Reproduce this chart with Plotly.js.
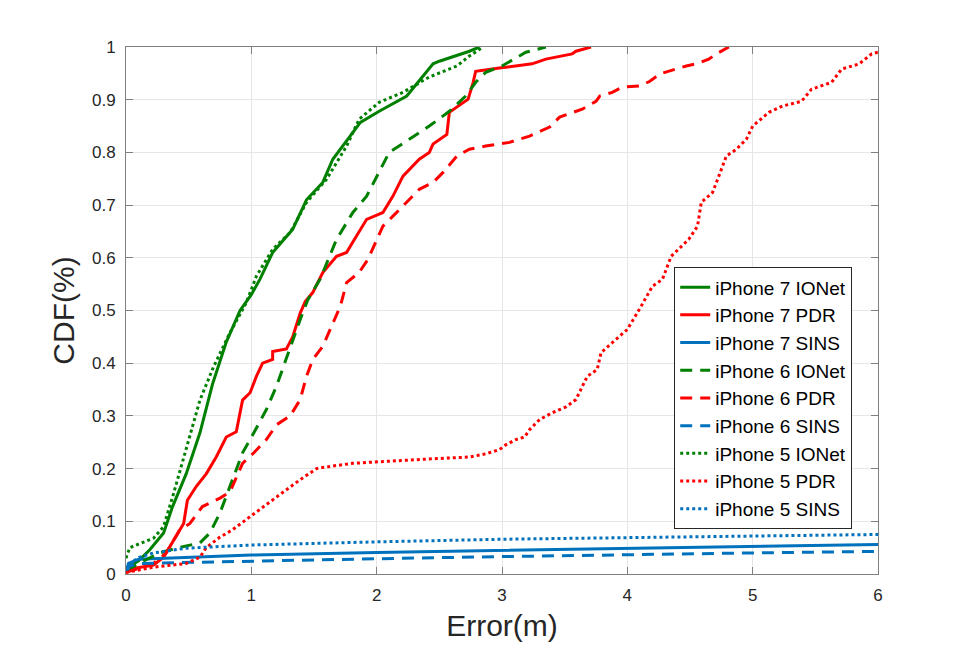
<!DOCTYPE html>
<html>
<head>
<meta charset="utf-8">
<script src="https://cdn.plot.ly/plotly-3.0.1.min.js"></script>
<style>html,body{margin:0;padding:0;background:#fff;}#chart{width:969px;height:646px;}</style>
</head>
<body>
<div id="chart"></div>
<script>
// ---- data ----
const names = ["iPhone 7 IONet","iPhone 7 PDR","iPhone 7 SINS","iPhone 6 IONet","iPhone 6 PDR","iPhone 6 SINS","iPhone 5 IONet","iPhone 5 PDR","iPhone 5 SINS"];

const ip7_ionet_x = [0, 0.1, 0.19, 0.3, 0.37, 0.48, 0.59, 0.69, 0.8, 0.91, 1.0, 1.07, 1.17, 1.33, 1.44, 1.57, 1.65, 1.87, 2.02, 2.24, 2.45, 2.5, 2.74, 2.82];
const ip7_ionet_y = [0.01, 0.025, 0.046, 0.078, 0.127, 0.19, 0.268, 0.36, 0.44, 0.5, 0.53, 0.56, 0.61, 0.654, 0.71, 0.743, 0.787, 0.857, 0.878, 0.907, 0.968, 0.973, 0.992, 1.0];

const ip7_pdr_x = [0, 0.22, 0.3, 0.38, 0.46, 0.49, 0.56, 0.64, 0.72, 0.8, 0.88, 0.93, 0.99, 1.04, 1.09, 1.17, 1.17, 1.28, 1.33, 1.39, 1.43, 1.49, 1.57, 1.68, 1.76, 1.81, 1.87, 1.92, 2.02, 2.05, 2.13, 2.21, 2.34, 2.42, 2.45, 2.56, 2.58, 2.64, 2.73, 2.77, 2.79, 2.98, 3.24, 3.35, 3.56, 3.59, 3.71];
const ip7_pdr_y = [0.008, 0.017, 0.032, 0.065, 0.096, 0.14, 0.166, 0.19, 0.222, 0.26, 0.27, 0.33, 0.344, 0.375, 0.4, 0.407, 0.422, 0.427, 0.45, 0.495, 0.517, 0.534, 0.572, 0.603, 0.61, 0.63, 0.654, 0.673, 0.683, 0.686, 0.717, 0.755, 0.787, 0.8, 0.816, 0.834, 0.876, 0.886, 0.901, 0.933, 0.954, 0.96, 0.968, 0.977, 0.987, 0.992, 1.0];

const ip7_sins_x = [0, 0.02, 0.1, 0.5, 1, 2, 3, 4, 5, 6];
const ip7_sins_y = [0.005, 0.02, 0.028, 0.032, 0.036, 0.041, 0.045, 0.049, 0.053, 0.056];

const ip6_ionet_x = [0, 0.1, 0.27, 0.42, 0.59, 0.67, 0.75, 0.83, 0.93, 1.02, 1.12, 1.2, 1.31, 1.39, 1.45, 1.55, 1.68, 1.81, 1.92, 2.02, 2.1, 2.26, 2.42, 2.58, 2.71, 2.79, 2.87, 3.0, 3.19, 3.35];
const ip6_ionet_y = [0.005, 0.02, 0.04, 0.05, 0.059, 0.078, 0.116, 0.166, 0.23, 0.268, 0.312, 0.356, 0.432, 0.483, 0.52, 0.56, 0.635, 0.686, 0.717, 0.762, 0.8, 0.825, 0.85, 0.878, 0.907, 0.933, 0.952, 0.964, 0.99, 1.0];

const ip6_pdr_x = [0, 0.22, 0.32, 0.43, 0.51, 0.61, 0.75, 0.83, 0.93, 1.02, 1.12, 1.2, 1.31, 1.39, 1.44, 1.49, 1.57, 1.63, 1.71, 1.76, 1.86, 1.93, 2.0, 2.05, 2.13, 2.24, 2.34, 2.45, 2.53, 2.64, 2.74, 2.87, 3.06, 3.22, 3.38, 3.46, 3.64, 3.75, 3.78, 3.88, 3.96, 4.1, 4.18, 4.26, 4.47, 4.55, 4.65, 4.71, 4.81];
const ip6_pdr_y = [0.003, 0.02, 0.04, 0.084, 0.096, 0.128, 0.144, 0.156, 0.21, 0.23, 0.255, 0.283, 0.3, 0.331, 0.375, 0.407, 0.432, 0.464, 0.508, 0.553, 0.572, 0.597, 0.635, 0.66, 0.679, 0.705, 0.73, 0.743, 0.762, 0.793, 0.806, 0.812, 0.819, 0.831, 0.848, 0.867, 0.882, 0.897, 0.907, 0.914, 0.924, 0.926, 0.935, 0.949, 0.964, 0.968, 0.977, 0.987, 1.0];

const ip6_sins_x = [0, 0.03, 0.1, 0.5, 1, 2, 3, 4, 5, 6];
const ip6_sins_y = [0.003, 0.015, 0.02, 0.022, 0.025, 0.029, 0.033, 0.037, 0.04, 0.043];

const ip5_ionet_x = [0, 0.03, 0.22, 0.3, 0.38, 0.48, 0.59, 0.7, 0.83, 0.96, 1.04, 1.17, 1.31, 1.44, 1.6, 1.76, 1.86, 2.02, 2.21, 2.42, 2.64, 2.74, 2.85];
const ip5_ionet_y = [0.03, 0.05, 0.068, 0.09, 0.153, 0.235, 0.33, 0.394, 0.458, 0.515, 0.565, 0.616, 0.648, 0.705, 0.749, 0.812, 0.863, 0.895, 0.914, 0.943, 0.964, 0.983, 1.0];

const ip5_pdr_x = [0, 0.22, 0.48, 0.59, 0.64, 0.75, 0.85, 0.96, 1.07, 1.17, 1.28, 1.39, 1.52, 1.65, 1.81, 2.02, 2.21, 2.48, 2.74, 2.87, 2.98, 3.03, 3.11, 3.18, 3.22, 3.3, 3.4, 3.51, 3.59, 3.64, 3.68, 3.76, 3.79, 3.88, 4.0, 4.11, 4.2, 4.28, 4.35, 4.49, 4.56, 4.59, 4.68, 4.73, 4.79, 4.87, 4.95, 5.0, 5.13, 5.24, 5.39, 5.47, 5.63, 5.71, 5.85, 5.95, 6.0];
const ip5_pdr_y = [0.003, 0.013, 0.02, 0.032, 0.05, 0.07, 0.084, 0.103, 0.122, 0.141, 0.16, 0.179, 0.2, 0.205, 0.21, 0.213, 0.215, 0.219, 0.222, 0.228, 0.236, 0.245, 0.255, 0.26, 0.274, 0.293, 0.306, 0.317, 0.331, 0.356, 0.375, 0.388, 0.42, 0.439, 0.464, 0.508, 0.546, 0.559, 0.603, 0.635, 0.66, 0.705, 0.724, 0.755, 0.793, 0.806, 0.825, 0.85, 0.876, 0.888, 0.897, 0.92, 0.933, 0.958, 0.968, 0.987, 0.99];

const ip5_sins_x = [0, 0.03, 0.11, 0.22, 0.48, 1, 2, 3, 4, 5, 6];
const ip5_sins_y = [0.008, 0.02, 0.032, 0.04, 0.049, 0.055, 0.061, 0.066, 0.069, 0.072, 0.075];

const xTicks = [0, 1, 2, 3, 4, 5, 6];
const yTicks = [0, 0.1, 0.2, 0.3, 0.4, 0.5, 0.6, 0.7, 0.8, 0.9, 1];

// ---- styling ----
const GREEN = "#008000", RED = "#FF0000", BLUE = "#0072BD";
const DASH = "12px,8px", DOT = "3px,3px";
const series = [
  [ip7_ionet_x, ip7_ionet_y, GREEN, "solid"],
  [ip7_pdr_x, ip7_pdr_y, RED, "solid"],
  [ip7_sins_x, ip7_sins_y, BLUE, "solid"],
  [ip6_ionet_x, ip6_ionet_y, GREEN, DASH],
  [ip6_pdr_x, ip6_pdr_y, RED, DASH],
  [ip6_sins_x, ip6_sins_y, BLUE, DASH],
  [ip5_ionet_x, ip5_ionet_y, GREEN, DOT],
  [ip5_pdr_x, ip5_pdr_y, RED, DOT],
  [ip5_sins_x, ip5_sins_y, BLUE, DOT]
];
const traces = series.map((s, i) => ({
  type: "scatter", mode: "lines", name: names[i],
  x: s[0], y: s[1],
  line: {color: s[2], width: 3, dash: s[3]}
}));

const FONT = "Liberation Sans, Arial, Helvetica, sans-serif";
const axisCommon = {
  showline: true, linecolor: "#808080", linewidth: 1, mirror: "ticks",
  ticks: "inside", ticklen: 7, tickcolor: "#808080", tickwidth: 1,
  showgrid: true, gridcolor: "#e6e6e6", gridwidth: 1, zeroline: false,
  tickfont: {family: FONT, size: 17, color: "#262626"}
};
const layout = {
  width: 969, height: 646,
  margin: {l: 126, r: 91, t: 47, b: 72},
  paper_bgcolor: "#fff", plot_bgcolor: "#fff",
  showlegend: true,
  xaxis: Object.assign({}, axisCommon, {
    range: [0, 6], tickvals: xTicks, ticktext: xTicks.map(String),
    ticklabelstandoff: 6,
    title: {text: "Error(m)", font: {family: FONT, size: 30, color: "#262626"}, standoff: 10}
  }),
  yaxis: Object.assign({}, axisCommon, {
    range: [0, 1], tickvals: yTicks, ticktext: yTicks.map(String),
    ticklabelstandoff: 6,
    title: {text: "CDF(%)", font: {family: FONT, size: 30, color: "#262626"}, standoff: 8}
  }),
  legend: {
    x: 0.729, y: 0.582, xanchor: "left", yanchor: "top",
    bgcolor: "#fff", bordercolor: "#262626", borderwidth: 1,
    font: {family: FONT, size: 19, color: "#000"},
    tracegroupgap: 0
  }
};
Plotly.newPlot("chart", traces, layout, {displayModeBar: false, staticPlot: true});
</script>
</body>
</html>
